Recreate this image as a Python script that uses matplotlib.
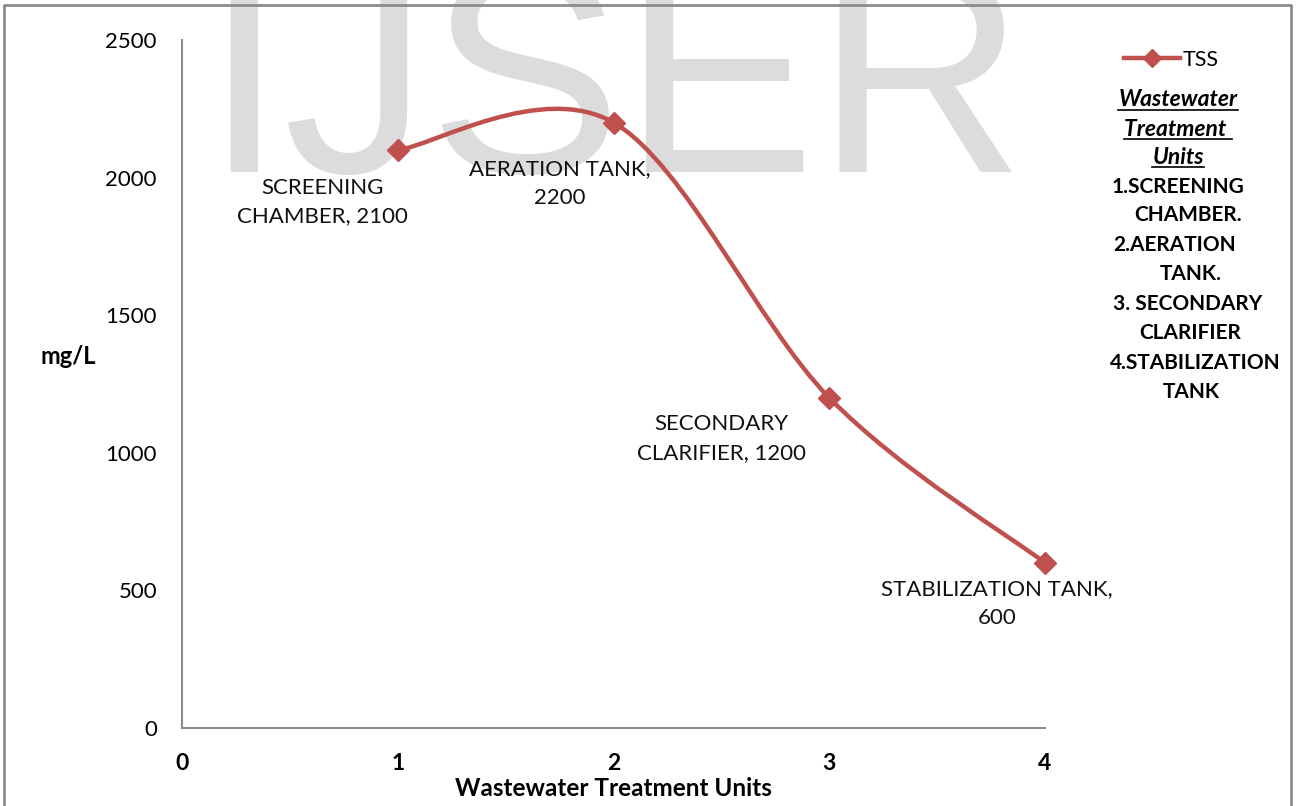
import numpy as np
import matplotlib
matplotlib.use("Agg")
import matplotlib.pyplot as plt
from matplotlib.path import Path
from matplotlib.patches import PathPatch
from matplotlib.lines import Line2D

plt.rcParams['font.family'] = ['Lato', 'DejaVu Sans']

# --------- data ---------
units = [1, 2, 3, 4]
tss = [2100, 2200, 1200, 600]
unit_names = ["SCREENING\nCHAMBER", "AERATION TANK,\n", "SECONDARY\nCLARIFIER", "STABILIZATION TANK,\n"]
x_ticks = [0, 1, 2, 3, 4]
y_ticks = [0, 500, 1000, 1500, 2000, 2500]
side_lines = ["1.SCREENING", "CHAMBER.", "2.AERATION", "TANK.",
              "3. SECONDARY", "CLARIFIER", "4.STABILIZATION", "TANK"]

RED = "#C0504D"

W, H = 1298, 806
fig = plt.figure(figsize=(W / 100, H / 100), dpi=100)
ax = fig.add_axes([182 / W, 1 - 728 / H, (1045 - 182) / W, (728 - 40) / H])
ax.set_facecolor("none")

# big grey watermark behind the plot
fig.text(203 / W, 1 - 172 / H, "IJSER", fontsize=209, color="#dcdcdc",
         family="Liberation Sans", ha="left", va="baseline", zorder=-5)


def smooth_path(xs, ys):
    # Excel-style smoothed line: cubic Bezier segments with Catmull-Rom handles
    pts = np.column_stack([xs, ys]).astype(float)
    ext = np.vstack([pts[0], pts, pts[-1]])
    verts = [pts[0]]
    codes = [Path.MOVETO]
    for i in range(1, len(ext) - 2):
        p0, p1, p2, p3 = ext[i - 1], ext[i], ext[i + 1], ext[i + 2]
        verts += [p1 + (p2 - p0) / 6, p2 - (p3 - p1) / 6, p2]
        codes += [Path.CURVE4] * 3
    return Path(verts, codes)


ax.add_patch(PathPatch(smooth_path(units, tss), facecolor="none",
                       edgecolor=RED, lw=3.2, capstyle="round", zorder=3,
                       clip_on=False))
ax.plot(units, tss, ls="none", marker="D", ms=11, color=RED, zorder=4,
        clip_on=False)

# data labels
offsets = [(-75, -52), (-54, -61), (-108, -41), (-48, -41)]
for x, y, name, off in zip(units, tss, unit_names, offsets):
    if name.endswith("\n"):
        txt = f"{name}{y}"
    else:
        txt = f"{name}, {y}"
    ax.annotate(txt, (x, y), xytext=off, textcoords="offset pixels",
                ha="center", va="center", fontsize=16, linespacing=1.55,
                color="#111111", zorder=5)

ax.set_xlim(0, 4)
ax.set_ylim(0, 2500)
ax.set_xticks(x_ticks)
ax.set_yticks(y_ticks)
ax.tick_params(length=0)
ax.tick_params(axis="y", pad=18, labelsize=16)
ax.tick_params(axis="x", pad=18, labelsize=16.5)
for lab in ax.get_xticklabels():
    lab.set_fontweight("bold")
for s in ["top", "right"]:
    ax.spines[s].set_visible(False)
for s in ["left", "bottom"]:
    ax.spines[s].set_color("#8c8c8c")
    ax.spines[s].set_linewidth(1.5)

fig.text(613 / W, 1 - 789 / H, "Wastewater Treatment Units", fontsize=17.5,
         fontweight="bold", ha="center", va="center")
fig.text(68 / W, 1 - 357 / H, "mg/L", fontsize=17, fontweight="bold",
         ha="center", va="center")

# legend
leg_handle = Line2D([], [], color=RED, lw=3.2, marker="D", ms=9)
fig.legend([leg_handle], ["TSS"], loc="center left",
           bbox_to_anchor=(1105 / W, 1 - 60 / H), frameon=False,
           fontsize=15.5, handlelength=2.6, handletextpad=0.1)

# side note
heading = ["Wastewater", "Treatment ", "Units"]
head_y = [100, 129, 157]
head_txt = []
for t, y in zip(heading, head_y):
    head_txt.append(fig.text(1178 / W, 1 - y / H, t, fontsize=16.5,
                             fontweight="bold", style="italic",
                             ha="center", va="center"))
side_x = [1178, 1188, 1175, 1191, 1188, 1190, 1195, 1191]
side_y = [187, 215, 245, 274, 304, 333, 363, 392]
for t, x, y in zip(side_lines, side_x, side_y):
    fig.text(x / W, 1 - y / H, t, fontsize=15, fontweight="bold",
             ha="center", va="center")

# underline the heading
fig.canvas.draw()
r = fig.canvas.get_renderer()
for t in head_txt:
    bb = t.get_window_extent(r)
    fig.add_artist(Line2D([bb.x0 / W, bb.x1 / W], [(bb.y0 + 1) / H] * 2,
                          color="black", lw=1.2))

# chart border
fig.add_artist(Line2D([4 / W, 4 / W, 1291 / W, 1291 / W],
                      [0, 1 - 5 / H, 1 - 5 / H, 0], color="#8c8c8c", lw=2))

fig.savefig("out.png", dpi=100)
